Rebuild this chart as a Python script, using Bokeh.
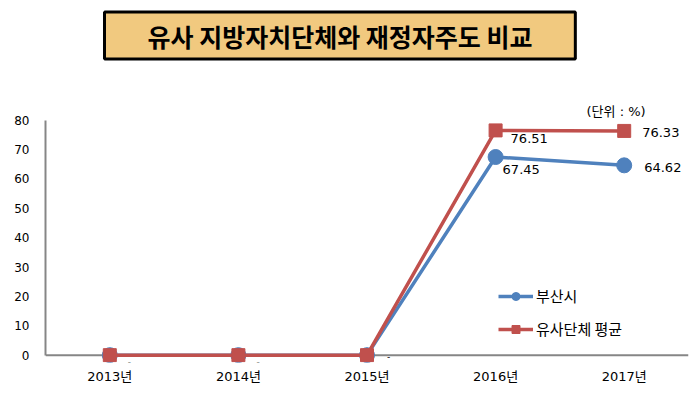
from bokeh.plotting import figure
from bokeh.models import (ColumnDataSource, FixedTicker, Span, BoxAnnotation, Label,
                          Legend, LegendItem, Range1d, FactorRange)
from bokeh.core.properties import value
from bokeh.embed import file_html
from bokeh.resources import INLINE

# ---- data ----
years = ["2013년", "2014년", "2015년", "2016년", "2017년"]
busan = [0, 0, 0, 67.45, 64.62]
similar_avg = [0, 0, 0, 76.51, 76.33]
busan_labels = ["-", "-", "-", "67.45", "64.62"]
similar_labels = ["", "", "", "76.51", "76.33"]
y_ticks = [0, 10, 20, 30, 40, 50, 60, 70, 80]
series_names = ["부산시", "유사단체 평균"]
title_text = "유사 지방자치단체와 재정자주도 비교"
unit_text = "(단위 : %)"

# ---- styling (label offsets in pixels) ----
busan_dx = [18, 18, 20, 7, 20]
busan_dy = [6, 6, 1, 12, 2]
busan_fs = ["9px", "9px", "9px", "13px", "13px"]
similar_dx = [0, 0, 0, 15, 18]
similar_dy = [0, 0, 0, 8, 2]

BLUE = "#4F81BD"
RED = "#C0504D"
AXIS = "#868686"
NUM_FONT = "DejaVu Sans, Noto Sans CJK KR"
KR_FONT = "Noto Sans CJK KR"

src_b = ColumnDataSource(dict(x=years, y=busan, lbl=busan_labels, dx=busan_dx, dy=busan_dy, fs=busan_fs))
src_r = ColumnDataSource(dict(x=years, y=similar_avg, lbl=similar_labels, dx=similar_dx, dy=similar_dy))

p = figure(x_range=FactorRange(*years), y_range=Range1d(-2.5, 120.39),
           frame_width=643, frame_height=361,
           min_border_left=45, min_border_right=1, min_border_top=1, min_border_bottom=26,
           output_backend="svg", toolbar_location=None, tools="")
p.outline_line_color = None
p.xgrid.visible = False
p.ygrid.visible = False
p.background_fill_color = "white"
p.border_fill_color = "white"

# axes
p.yaxis.ticker = FixedTicker(ticks=y_ticks)
p.yaxis.bounds = (0, 80)
p.yaxis.axis_line_color = AXIS
p.yaxis.axis_line_width = 2
p.yaxis.major_tick_line_color = None
p.yaxis.minor_tick_line_color = None
p.yaxis.major_label_standoff = 10
p.yaxis.major_label_text_font = NUM_FONT
p.yaxis.major_label_text_font_size = "12px"
p.yaxis.major_label_text_color = "black"

p.xaxis.axis_line_color = None
p.xaxis.major_tick_line_color = None
p.xaxis.minor_tick_line_color = None
p.xaxis.major_label_standoff = 0
p.xaxis.major_label_text_font = NUM_FONT
p.xaxis.major_label_text_font_size = "13px"
p.xaxis.major_label_text_color = "black"

p.add_layout(Span(location=0, dimension="width", line_color=AXIS, line_width=2, level="underlay"))

# series
bl = p.line("x", "y", source=src_b, line_color=BLUE, line_width=3.5)
bm = p.scatter("x", "y", source=src_b, marker="circle", size=15, fill_color=BLUE, line_color=BLUE)
rl = p.line("x", "y", source=src_r, line_color=RED, line_width=3.5)
rm = p.scatter("x", "y", source=src_r, marker="square", size=13, fill_color=RED, line_color=RED)

# data labels
p.text("x", "y", text="lbl", source=src_b, x_offset="dx", y_offset="dy",
       text_font=value(NUM_FONT), text_font_size="fs", text_color="black",
       text_baseline="middle", text_align="left")
p.text("x", "y", text="lbl", source=src_r, x_offset="dx", y_offset="dy",
       text_font=value(NUM_FONT), text_font_size="13px", text_color="black",
       text_baseline="middle", text_align="left")

# legend
legend = Legend(items=[LegendItem(label=series_names[0], renderers=[bl, bm]),
                       LegendItem(label=series_names[1], renderers=[rl, rm])],
                location=(453, 23), orientation="vertical",
                glyph_width=35, glyph_height=20, label_height=20, spacing=12,
                label_standoff=3, padding=0, margin=0,
                border_line_color=None, background_fill_alpha=0,
                label_text_font=KR_FONT, label_text_font_size="15px", label_text_color="black")
p.add_layout(legend)

# title box
p.add_layout(BoxAnnotation(left=0.459, right=4.12, bottom=100.8, top=116.8,
                           fill_color="#F1C97F", fill_alpha=1.0,
                           line_color="black", line_alpha=1.0, line_width=3, level="underlay"))
p.add_layout(Label(x=2.29, y=108.8, text=title_text, text_align="center", text_baseline="middle",
                   text_font=KR_FONT, text_font_size="25px", text_font_style="bold",
                   text_color="black", level="overlay"))

# unit label
p.add_layout(Label(x=4.207, y=83.0, text=unit_text, text_align="left", text_baseline="middle",
                   text_font=NUM_FONT, text_font_size="13px", text_color="black"))

open("out.html", "w").write(file_html(p, INLINE))
